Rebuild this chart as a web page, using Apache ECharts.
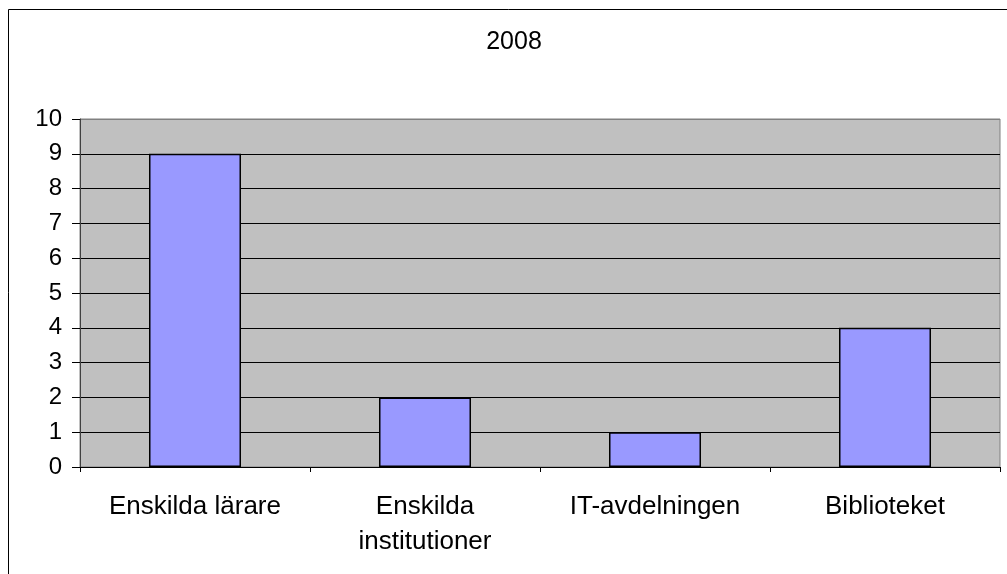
<!DOCTYPE html>
<html>
<head>
<meta charset="utf-8">
<script src="https://cdn.jsdelivr.net/npm/echarts@6/dist/echarts.min.js"></script>
<style>
html,body{margin:0;padding:0;background:#fff;}
#chart{width:1007px;height:574px;}
</style>
</head>
<body>
<div id="chart"></div>
<script>
const titleText = '2008';
const categories = ['Enskilda lärare', 'Enskilda\ninstitutioner', 'IT-avdelningen', 'Biblioteket'];
const values = [9, 2, 1, 4];
const yTicks = [0, 10, 1];

const chart = echarts.init(document.getElementById('chart'), null, {renderer: 'canvas'});
const font = "'Liberation Sans', Arial, sans-serif";
const splitColors = [];
for (let i = 0; i <= 10; i++) splitColors.push(i === 10 ? '#808080' : '#000000');

chart.setOption({
  animation: false,
  backgroundColor: '#ffffff',
  textStyle: {fontFamily: font},
  graphic: [{
    type: 'rect',
    shape: {x: 8.5, y: 9.5, width: 1100, height: 700},
    style: {fill: 'none', stroke: '#000', lineWidth: 1},
    silent: true,
    z: 100
  }, {
    type: 'text',
    x: 514, y: 42,
    style: {
      text: titleText, fill: '#000', fontFamily: font, fontSize: 25,
      align: 'center', verticalAlign: 'middle'
    },
    silent: true
  }],
  grid: {
    left: 80, right: 7, top: 119, bottom: 107,
    show: true,
    backgroundColor: '#C0C0C0',
    borderColor: '#808080',
    borderWidth: 1
  },
  xAxis: {
    type: 'category',
    data: categories,
    axisLine: {show: true, lineStyle: {color: '#000', width: 1}},
    axisTick: {show: true, length: 5, alignWithLabel: false, lineStyle: {color: '#000'}},
    axisLabel: {
      color: '#000', fontSize: 26, fontFamily: font, margin: 22,
      lineHeight: 35, interval: 0
    },
    splitLine: {show: false}
  },
  yAxis: {
    type: 'value',
    min: yTicks[0], max: yTicks[1], interval: yTicks[2],
    axisLine: {show: true, lineStyle: {color: '#404040', width: 1}},
    axisTick: {show: true, length: 8, lineStyle: {color: '#000'}},
    axisLabel: {color: '#000', fontSize: 24, fontFamily: font, margin: 18},
    splitLine: {show: true, lineStyle: {color: splitColors, width: 1}}
  },
  series: [{
    type: 'bar',
    data: values,
    barWidth: '40%',
    itemStyle: {color: '#9999FF', borderColor: '#000', borderWidth: 1.5}
  }]
});
</script>
</body>
</html>
